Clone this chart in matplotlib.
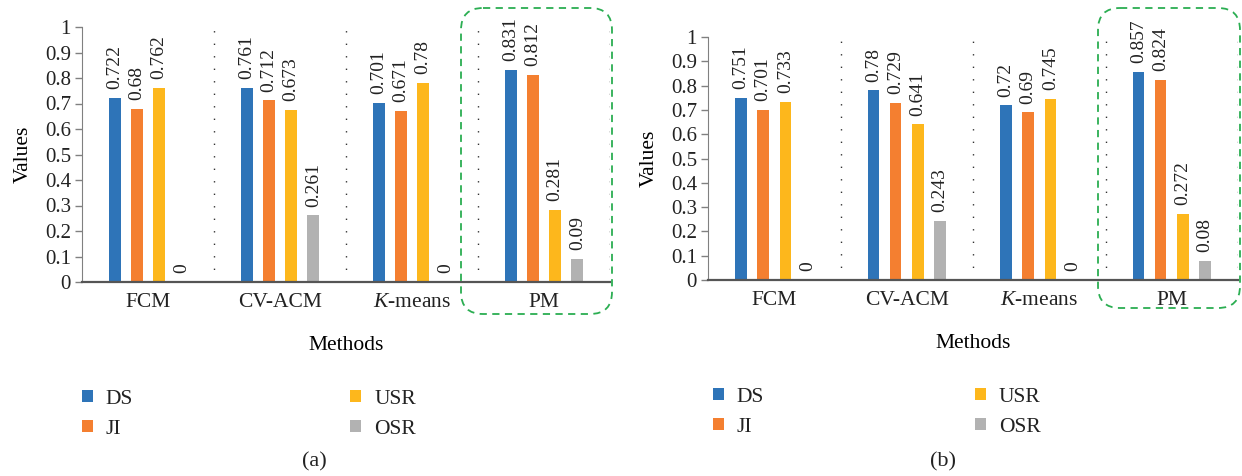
import matplotlib
matplotlib.use("Agg")
import matplotlib.pyplot as plt
import numpy as np
from matplotlib.patches import FancyBboxPatch, Patch

methods = ["FCM", "CV-ACM", "$\\mathit{K}$-means", "PM"]
series = ["DS", "JI", "USR", "OSR"]
colors = ["#2E74B8", "#F47F30", "#FDB71C", "#B2B2B2"]

# values per panel, one list per series, in the order of methods
vals_a = {
    "DS": [0.722, 0.761, 0.701, 0.831],
    "JI": [0.68, 0.712, 0.671, 0.812],
    "USR": [0.762, 0.673, 0.78, 0.281],
    "OSR": [0, 0.261, 0, 0.09],
}
vals_b = {
    "DS": [0.751, 0.78, 0.72, 0.857],
    "JI": [0.701, 0.729, 0.69, 0.824],
    "USR": [0.733, 0.641, 0.745, 0.272],
    "OSR": [0, 0.243, 0, 0.08],
}
y_ticks = [0, 0.1, 0.2, 0.3, 0.4, 0.5, 0.6, 0.7, 0.8, 0.9, 1]

plt.rcParams.update({
    "font.family": ["Liberation Serif", "DejaVu Serif"],
    "mathtext.fontset": "custom",
    "mathtext.rm": "Liberation Serif",
    "mathtext.it": "Liberation Serif:italic",
    "text.color": "#222222",
    "xtick.color": "#222222",
    "ytick.color": "#222222",
})

W, H = 1242, 476
fig = plt.figure(figsize=(W / 100, H / 100), dpi=100)
fig.patch.set_facecolor("white")


def px_axes(x0, x1, y_top, y_base):
    return fig.add_axes([x0 / W, (H - y_base) / H, (x1 - x0) / W, (y_base - y_top) / H])


def draw_panel(ax, values):
    x = np.arange(len(methods))
    step = 0.168
    width = 0.088
    for i, (name, col) in enumerate(zip(series, colors)):
        v = values[name]
        pos = x + (i - 1.5) * step
        ax.bar(pos, v, width=width, color=col, zorder=2)
        for xp, val in zip(pos, v):
            ax.text(xp, val + 0.035, f"{val:g}", rotation=90, ha="center",
                    va="bottom", fontsize=14, color="#222222")
    for sep in x + 0.5:
        ax.axvline(sep, color="#333333", linestyle=(0, (1, 8)), linewidth=1.0)
    ax.set_xlim(-0.5, len(methods) - 0.5)
    ax.set_ylim(0, 1)
    ax.set_yticks(y_ticks, labels=[f"{t:g}" for t in y_ticks])
    ax.set_xticks(x, labels=methods)
    ax.tick_params(axis="x", length=0, pad=8, labelsize=15.5)
    ax.tick_params(axis="y", length=5, width=1, color="#808080", pad=3, labelsize=15)
    for s in ("top", "right"):
        ax.spines[s].set_visible(False)
    ax.spines["left"].set_color("#808080")
    ax.spines["bottom"].set_color("#555555")
    ax.spines["bottom"].set_linewidth(1.6)
    ax.set_ylabel("Values", fontsize=15.5, labelpad=9)
    ax.set_xlabel("Methods", fontsize=15.5, labelpad=17)


ax_a = px_axes(82, 610, 27, 282)
draw_panel(ax_a, vals_a)
ax_b = px_axes(708, 1238, 37, 280)
draw_panel(ax_b, vals_b)

# overlay in pixel coordinates for the highlight boxes and captions
ov = fig.add_axes([0, 0, 1, 1], zorder=5)
ov.set_xlim(0, W)
ov.set_ylim(H, 0)
ov.axis("off")

for (x0, x1, y0, y1) in [(461, 612, 8, 314), (1098, 1240, 8, 308)]:
    box = FancyBboxPatch((x0, y0), x1 - x0, y1 - y0,
                         boxstyle="round,pad=0,rounding_size=22",
                         fill=False, edgecolor="#2BAE52", linewidth=1.3,
                         linestyle=(0, (4, 3)), clip_on=False)
    ov.add_patch(box)

handles = [Patch(facecolor=c, edgecolor="none") for c in colors]
for lx, ly, colsp, cap, cap_x in [(82, 390, 10.1, "(a)", 314),
                                  (713, 388, 9.8, "(b)", 943)]:
    fig.legend(handles, series, ncol=2, loc="upper left",
               bbox_to_anchor=(lx / W, 1 - ly / H), frameon=False,
               fontsize=15.5, handlelength=0.5, handleheight=0.5,
               handletextpad=0.6, columnspacing=colsp, labelspacing=0.5,
               borderaxespad=0, borderpad=0)
    ov.text(cap_x, 462, cap, ha="center", va="center", fontsize=16)

fig.savefig("out.png", dpi=100)
